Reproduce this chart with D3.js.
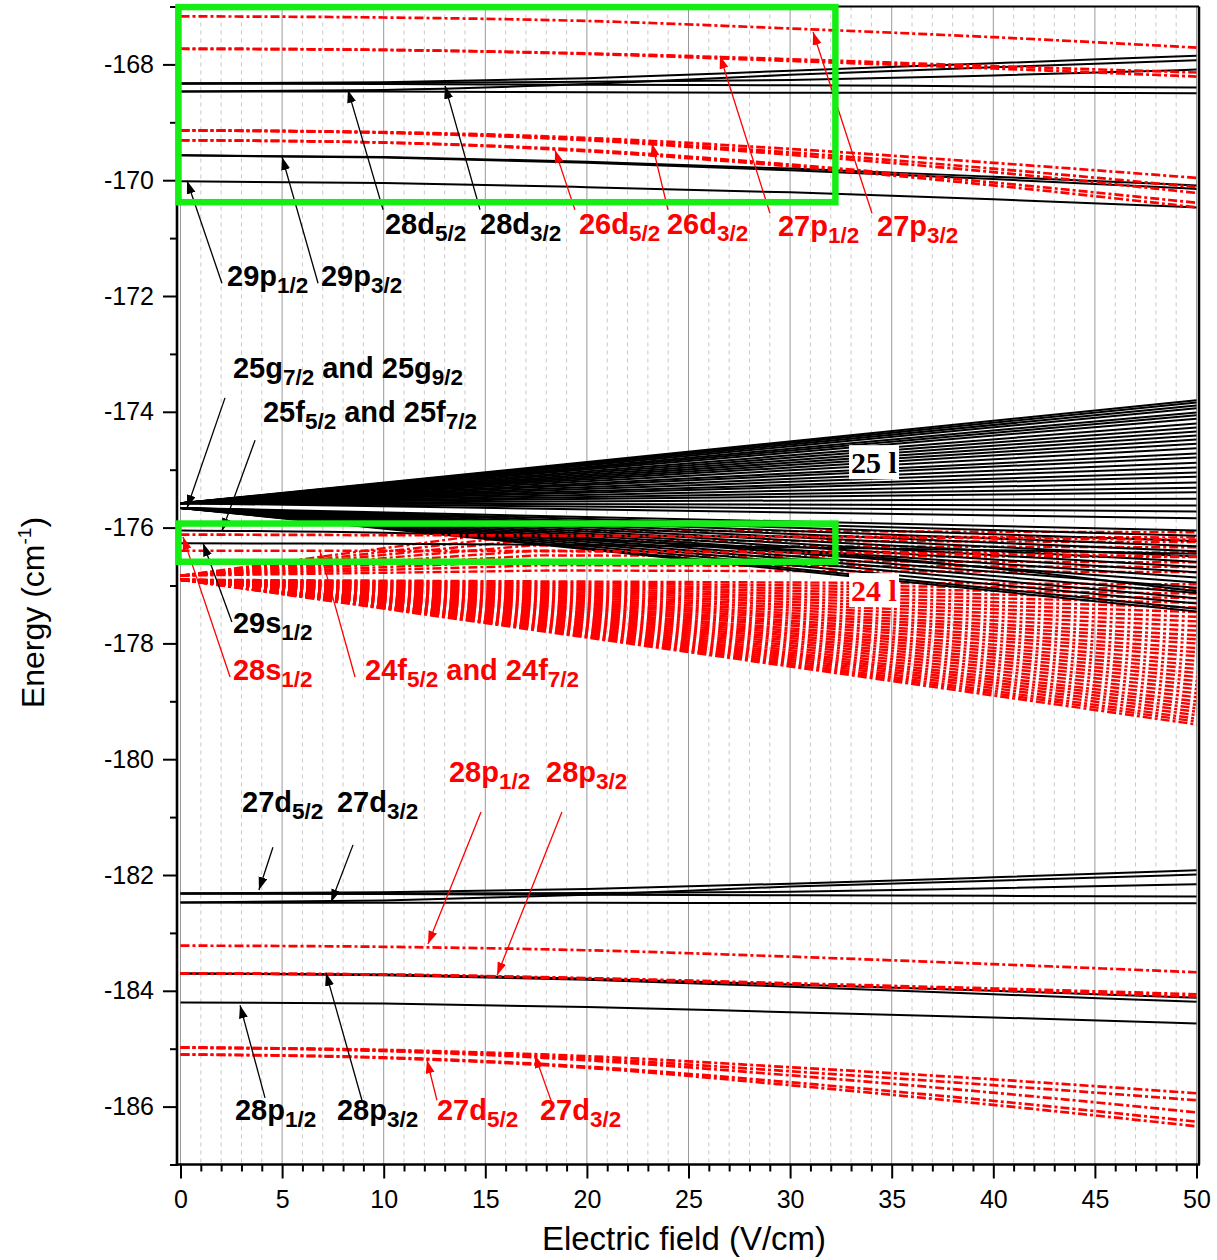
<!DOCTYPE html>
<html><head><meta charset="utf-8">
<script src="https://cdn.jsdelivr.net/npm/d3@7"></script>
<style>body{margin:0;background:#fff;} svg{display:block;} text{white-space:pre;}</style>
</head><body>
<svg id="chart" width="1217" height="1260"></svg>
<script>
// ---------------- DATA ----------------
const fieldGrid = [0, 10, 20, 30, 40, 50];          // V/cm
const xTicksMajor = [0, 5, 10, 15, 20, 25, 30, 35, 40, 45, 50];
const yTicksMajor = [-186, -184, -182, -180, -178, -176, -174, -172, -170, -168];

// low-l states, energies (cm^-1) at fieldGrid
const black28d = [
  [-168.33, -168.31, -168.24, -168.11, -167.98, -167.85],
  [-168.47, -168.44, -168.34, -168.18, -168.05, -167.93],
  [-168.33, -168.32, -168.30, -168.27, -168.19, -168.09],
  [-168.33, -168.34, -168.35, -168.36, -168.38, -168.40],
  [-168.47, -168.47, -168.48, -168.49, -168.49, -168.50]
];
const black29p = [
  [-169.57, -169.60, -169.68, -169.80, -169.94, -170.09],
  [-169.57, -169.61, -169.70, -169.83, -169.98, -170.15],
  [-170.02, -170.05, -170.12, -170.21, -170.33, -170.47]
];
const red27p = [
  [-167.17, -167.19, -167.25, -167.38, -167.53, -167.71],
  [-167.73, -167.75, -167.81, -167.91, -168.03, -168.14],
  [-167.73, -167.75, -167.82, -167.94, -168.07, -168.21]
];
const red26d = [
  [-169.14, -169.17, -169.27, -169.46, -169.70, -169.96],
  [-169.14, -169.18, -169.30, -169.52, -169.80, -170.12],
  [-169.14, -169.18, -169.31, -169.56, -169.86, -170.22],
  [-169.31, -169.35, -169.48, -169.73, -170.04, -170.39],
  [-169.31, -169.35, -169.50, -169.76, -170.09, -170.47]
];
const black25f = [-176.05, -176.09, -176.20, -176.40, -176.70, -177.10];
const black29s = [-176.27, -176.28, -176.30, -176.34, -176.39, -176.45];
const red28s   = [-176.12, -176.13, -176.14, -176.16, -176.18, -176.21];
const red24f   = [-176.40, -176.40, -176.41, -176.43, -176.46, -176.50];
const black27d = [
  [-182.32, -182.30, -182.24, -182.15, -182.04, -181.92],
  [-182.475, -182.44, -182.34, -182.20, -182.10, -181.99],
  [-182.32, -182.32, -182.31, -182.29, -182.23, -182.16],
  [-182.32, -182.33, -182.34, -182.35, -182.36, -182.37],
  [-182.475, -182.48, -182.48, -182.485, -182.49, -182.49]
];
const red28p = [
  [-183.22, -183.24, -183.30, -183.41, -183.54, -183.68],
  [-183.70, -183.72, -183.78, -183.87, -183.96, -184.06],
  [-183.70, -183.72, -183.79, -183.89, -183.99, -184.10]
];
const black28p = [
  [-183.70, -183.72, -183.79, -183.89, -184.00, -184.12],
  [-183.70, -183.73, -183.81, -183.93, -184.06, -184.19],
  [-184.20, -184.22, -184.28, -184.37, -184.46, -184.565]
];
const red27d = [
  [-184.98, -185.02, -185.13, -185.32, -185.53, -185.77],
  [-184.98, -185.03, -185.17, -185.39, -185.63, -185.89],
  [-184.98, -185.04, -185.20, -185.46, -185.76, -186.10],
  [-185.10, -185.15, -185.31, -185.58, -185.90, -186.26],
  [-185.10, -185.16, -185.33, -185.63, -185.97, -186.34]
];

// n=25 hydrogenic manifold (black): zero-field energies and energies at 50 V/cm
const manifold25Origin = [-175.58, -175.66];
const manifold25UpEnd = [-173.80, -173.84, -173.89, -173.94, -174.01, -174.06, -174.12, -174.20, -174.27,
  -174.34, -174.41, -174.48, -174.55, -174.63, -174.72, -174.79, -174.88, -174.96, -175.05, -175.12,
  -175.22, -175.31, -175.39, -175.50, -175.62, -175.72, -175.84];
const manifold25DownEnd = [-176.05, -176.14, -176.23, -176.32, -176.41, -176.50, -176.59, -176.68, -176.77,
  -176.86, -176.95, -177.04, -177.13, -177.22, -177.31, -177.40, -177.45];

// n=24 hydrogenic manifold (red)
const manifold24Origin = [-176.83, -176.90];
// rising states: field where they level off, and level energy
const manifold24LevelField = [16.5, 16.8, 17.0, 17.2, 17.4, 17.6, 17.8, 18.0, 18.2];
const manifold24Level      = [-176.05, -176.14, -176.22, -176.31, -176.40, -176.48, -176.57, -176.65, -176.74];
const manifold24DownEnd = [-176.98, -177.06, -177.14, -177.22, -177.30, -177.38, -177.46, -177.54, -177.62,
  -177.70, -177.78, -177.86, -177.93, -178.00, -178.08, -178.15, -178.22, -178.30, -178.37, -178.44,
  -178.51, -178.58, -178.65, -178.72, -178.79, -178.86, -178.93, -179.00, -179.06, -179.12, -179.18,
  -179.24, -179.30, -179.35, -179.40];

// annotations (data coordinates)
const stateLabels = [
  {F:10.06, E:-170.93, c:'#000', p:[['28d'],['5/2',1]]},
  {F:14.74, E:-170.93, c:'#000', p:[['28d'],['3/2',1]]},
  {F:19.61, E:-170.93, c:'#f00', p:[['26d'],['5/2',1]]},
  {F:23.94, E:-170.93, c:'#f00', p:[['26d'],['3/2',1]]},
  {F:29.40, E:-170.96, c:'#f00', p:[['27p'],['1/2',1]]},
  {F:34.28, E:-170.96, c:'#f00', p:[['27p'],['3/2',1]]},
  {F:2.29,  E:-171.83, c:'#000', p:[['29p'],['1/2',1]]},
  {F:6.91,  E:-171.83, c:'#000', p:[['29p'],['3/2',1]]},
  {F:2.58,  E:-173.42, c:'#000', p:[['25g'],['7/2',1],[' and 25g'],['9/2',1]]},
  {F:4.06,  E:-174.18, c:'#000', p:[['25f'],['5/2',1],[' and 25f'],['7/2',1]]},
  {F:2.58,  E:-177.82, c:'#000', p:[['29s'],['1/2',1]]},
  {F:2.58,  E:-178.63, c:'#f00', p:[['28s'],['1/2',1]]},
  {F:9.08,  E:-178.63, c:'#f00', p:[['24f'],['5/2',1],[' and 24f'],['7/2',1]]},
  {F:3.03,  E:-180.91, c:'#000', p:[['27d'],['5/2',1]]},
  {F:7.70,  E:-180.91, c:'#000', p:[['27d'],['3/2',1]]},
  {F:13.21, E:-180.39, c:'#f00', p:[['28p'],['1/2',1]]},
  {F:17.99, E:-180.39, c:'#f00', p:[['28p'],['3/2',1]]},
  {F:2.68,  E:-186.23, c:'#000', p:[['28p'],['1/2',1]]},
  {F:7.70,  E:-186.23, c:'#000', p:[['28p'],['3/2',1]]},
  {F:12.62, E:-186.23, c:'#f00', p:[['27d'],['5/2',1]]},
  {F:17.69, E:-186.23, c:'#f00', p:[['27d'],['3/2',1]]}
];
const manifoldLabels = [
  {F:33.0, E:-175.06, c:'#000', t:'25 l'},
  {F:33.0, E:-177.27, c:'#f00', t:'24 l'}
];
const arrows = [
  {a:[9.97,-170.51],  b:[8.24,-168.44],  c:'#000'},
  {a:[14.74,-170.51], b:[13.02,-168.37], c:'#000'},
  {a:[19.41,-170.51], b:[18.43,-169.48], c:'#f00'},
  {a:[23.99,-170.51], b:[23.20,-169.36], c:'#f00'},
  {a:[29.01,-170.57], b:[26.55,-167.85], c:'#f00'},
  {a:[34.03,-170.57], b:[31.13,-167.44], c:'#f00'},
  {a:[2.04,-171.78],  b:[0.32,-170.01],  c:'#000'},
  {a:[6.77,-171.78],  b:[5.00,-169.60],  c:'#000'},
  {a:[2.19,-173.76],  b:[0.32,-175.66],  c:'#000'},
  {a:[3.67,-174.49],  b:[2.04,-176.06],  c:'#000'},
  {a:[2.53,-177.63],  b:[1.11,-176.27],  c:'#000'},
  {a:[2.44,-178.58],  b:[0.12,-176.16],  c:'#f00'},
  {a:[8.59,-178.58],  b:[6.87,-176.42],  c:'#f00'},
  {a:[4.55,-181.52],  b:[3.86,-182.26],  c:'#000'},
  {a:[8.49,-181.48],  b:[7.41,-182.47],  c:'#000'},
  {a:[14.79,-180.91], b:[12.18,-183.19], c:'#f00'},
  {a:[18.77,-180.91], b:[15.58,-183.73], c:'#f00'},
  {a:[4.16,-185.85],  b:[2.93,-184.25],  c:'#000'},
  {a:[8.93,-185.89],  b:[7.16,-183.69],  c:'#000'},
  {a:[12.62,-185.89], b:[12.13,-185.20], c:'#f00'},
  {a:[18.28,-185.94], b:[17.44,-185.11], c:'#f00'}
];
const highlightBoxes = [
  {F0:-0.10, F1:32.23, E0:-167.01, E1:-170.38},
  {F0:-0.10, F1:32.23, E0:-175.93, E1:-176.59}
];

// ---------------- CHART ----------------
const svg = d3.select('#chart');
const x = d3.scaleLinear().domain([0, 50]).range([180.5, 1196.5]);
const y = d3.scaleLinear().domain([-187, -167]).range([1164.5, 6.5]);
const frameL = 177, frameR = 1199, frameT = 6.5, frameB = 1164.5;
const sansFont = "'Liberation Sans', Arial, Helvetica, sans-serif";
const RED = '#ff0000', DASH = '9,3,3,3';

svg.append('rect').attr('width', 1217).attr('height', 1260).attr('fill', '#fff');
const defs = svg.append('defs');
defs.append('clipPath').attr('id', 'plotclip')
  .append('rect').attr('x', frameL).attr('y', frameT).attr('width', frameR - frameL).attr('height', frameB - frameT);

// grid
const grid = svg.append('g');
const minorVals = d3.range(0, 51).filter(v => v % 5 !== 0);
grid.selectAll('line.minor').data(minorVals).join('line')
  .attr('x1', d => x(d)).attr('x2', d => x(d)).attr('y1', frameT).attr('y2', frameB)
  .attr('stroke', '#c8c8c8').attr('stroke-width', 1).attr('stroke-dasharray', '4,4');
grid.selectAll('line.major').data(xTicksMajor).join('line')
  .attr('x1', d => x(d)).attr('x2', d => x(d)).attr('y1', frameT).attr('y2', frameB)
  .attr('stroke', '#999').attr('stroke-width', 1);

const plot = svg.append('g').attr('clip-path', 'url(#plotclip)');
const lin = d3.line().x(d => x(d[0])).y(d => y(d[1]));
const smooth = d3.line().x(d => x(d[0])).y(d => y(d[1])).curve(d3.curveMonotoneX);
const toPts = arr => arr.map((e, i) => [fieldGrid[i], e]);

// red n=24 manifold
const m24 = [];
manifold24LevelField.forEach((f, i) => m24.push([[0, manifold24Origin[0]], [f, manifold24Level[i]], [50, manifold24Level[i] - 0.03]]));
manifold24DownEnd.forEach(e => m24.push([[0, manifold24Origin[1]], [50, e]]));
plot.append('g').selectAll('path').data(m24).join('path')
  .attr('d', lin).attr('fill', 'none').attr('stroke', RED).attr('stroke-width', 2.4).attr('stroke-dasharray', DASH);

// black n=25 manifold
const m25 = [];
manifold25UpEnd.forEach(e => m25.push([[0, manifold25Origin[0]], [50, e]]));
manifold25DownEnd.forEach(e => m25.push([[0, manifold25Origin[1]], [50, e]]));
plot.append('g').selectAll('path').data(m25).join('path')
  .attr('d', lin).attr('fill', 'none').attr('stroke', '#000').attr('stroke-width', 2);

// black low-l
const blackSeries = [...black28d, ...black29p, black25f, black29s, ...black27d, ...black28p];
plot.append('g').selectAll('path').data(blackSeries).join('path')
  .attr('d', d => smooth(toPts(d))).attr('fill', 'none').attr('stroke', '#000').attr('stroke-width', 2);
// red low-l
const redSeries = [...red27p, ...red26d, red28s, red24f, ...red28p, ...red27d];
plot.append('g').selectAll('path').data(redSeries).join('path')
  .attr('d', d => smooth(toPts(d))).attr('fill', 'none').attr('stroke', RED).attr('stroke-width', 2.7).attr('stroke-dasharray', DASH);

// manifold labels with white background
manifoldLabels.forEach(d => {
  const g = svg.append('g');
  g.append('rect').attr('x', x(d.F) - 2).attr('y', y(d.E) - 28).attr('width', 50).attr('height', 34).attr('fill', '#fff');
  g.append('text').attr('x', x(d.F)).attr('y', y(d.E)).attr('fill', d.c)
    .attr('font-family', "'Liberation Serif', 'Times New Roman', serif").attr('font-weight', 'bold').attr('font-size', 30)
    .text(d.t);
});

// arrows
[['arrK', '#000'], ['arrR', RED]].forEach(([id, col]) => {
  defs.append('marker').attr('id', id).attr('markerUnits', 'userSpaceOnUse')
    .attr('markerWidth', 14).attr('markerHeight', 10).attr('refX', 13).attr('refY', 4.5).attr('orient', 'auto')
    .append('path').attr('d', 'M0,0 L13,4.5 L0,9 Z').attr('fill', col);
});
svg.append('g').selectAll('line').data(arrows).join('line')
  .attr('x1', d => x(d.a[0])).attr('y1', d => y(d.a[1]))
  .attr('x2', d => x(d.b[0])).attr('y2', d => y(d.b[1]))
  .attr('stroke', d => d.c).attr('stroke-width', 1.3)
  .attr('marker-end', d => d.c === '#000' ? 'url(#arrK)' : 'url(#arrR)');

// state labels
const gl = svg.append('g');
stateLabels.forEach(d => {
  const t = gl.append('text').attr('x', x(d.F)).attr('y', y(d.E)).attr('fill', d.c)
    .attr('font-family', sansFont).attr('font-weight', 'bold').attr('font-size', 29);
  let sub = false;
  d.p.forEach(part => {
    const isSub = part[1] === 1;
    const ts = t.append('tspan').text(part[0]);
    if (isSub) { ts.attr('font-size', 22.5); if (!sub) ts.attr('dy', 7); sub = true; }
    else if (sub) { ts.attr('dy', -7); sub = false; }
  });
});

// frame (top/right)
svg.append('line').attr('x1', frameL).attr('x2', frameR).attr('y1', frameT).attr('y2', frameT).attr('stroke', '#000').attr('stroke-width', 2);
svg.append('line').attr('x1', frameR).attr('x2', frameR).attr('y1', frameT).attr('y2', frameB).attr('stroke', '#000').attr('stroke-width', 2.5);

// axes
const fmt = d => String(d);
const xAxisG = svg.append('g').attr('transform', `translate(0,${frameB})`);
xAxisG.call(d3.axisBottom(x).tickValues(xTicksMajor).tickSize(14).tickPadding(12).tickFormat(fmt));
xAxisG.append('g').call(d3.axisBottom(x).tickValues(minorVals).tickSize(7).tickFormat(''));
const yAxisG = svg.append('g').attr('transform', `translate(${frameL},0)`);
const yMinor = d3.range(-187, -166).filter(v => v % 2 !== 0);
yAxisG.call(d3.axisLeft(y).tickValues(yTicksMajor).tickSize(14).tickPadding(9).tickFormat(fmt));
yAxisG.append('g').call(d3.axisLeft(y).tickValues(yMinor).tickSize(7).tickFormat(''));
svg.selectAll('.domain').remove();
svg.selectAll('.tick line').attr('stroke', '#000').attr('stroke-width', 2);
svg.selectAll('.tick text').attr('font-family', sansFont).attr('font-size', 25).attr('fill', '#000');
svg.append('line').attr('x1', frameL).attr('x2', frameL).attr('y1', frameT).attr('y2', frameB + 1.2).attr('stroke', '#000').attr('stroke-width', 2.6);
svg.append('line').attr('x1', frameL - 1.3).attr('x2', frameR + 1).attr('y1', frameB).attr('y2', frameB).attr('stroke', '#000').attr('stroke-width', 2.6);

// highlight boxes (on top of everything in the plot)
svg.append('g').selectAll('rect').data(highlightBoxes).join('rect')
  .attr('x', d => x(d.F0)).attr('y', d => y(d.E0))
  .attr('width', d => x(d.F1) - x(d.F0)).attr('height', d => y(d.E1) - y(d.E0))
  .attr('fill', 'none').attr('stroke', '#14ee14').attr('stroke-width', 6.5);

// axis titles
svg.append('text').attr('x', 684).attr('y', 1250).attr('text-anchor', 'middle')
  .attr('font-family', sansFont).attr('font-size', 33).attr('fill', '#000').text('Electric field (V/cm)');
const yt = svg.append('text').attr('transform', 'translate(43.5,612.5) rotate(-90)').attr('text-anchor', 'middle')
  .attr('font-family', sansFont).attr('font-size', 32).attr('fill', '#000');
yt.append('tspan').text('Energy (cm');
yt.append('tspan').attr('font-size', 19).attr('dy', -13).text('-1');
yt.append('tspan').attr('dy', 13).text(')');
</script>
</body></html>
